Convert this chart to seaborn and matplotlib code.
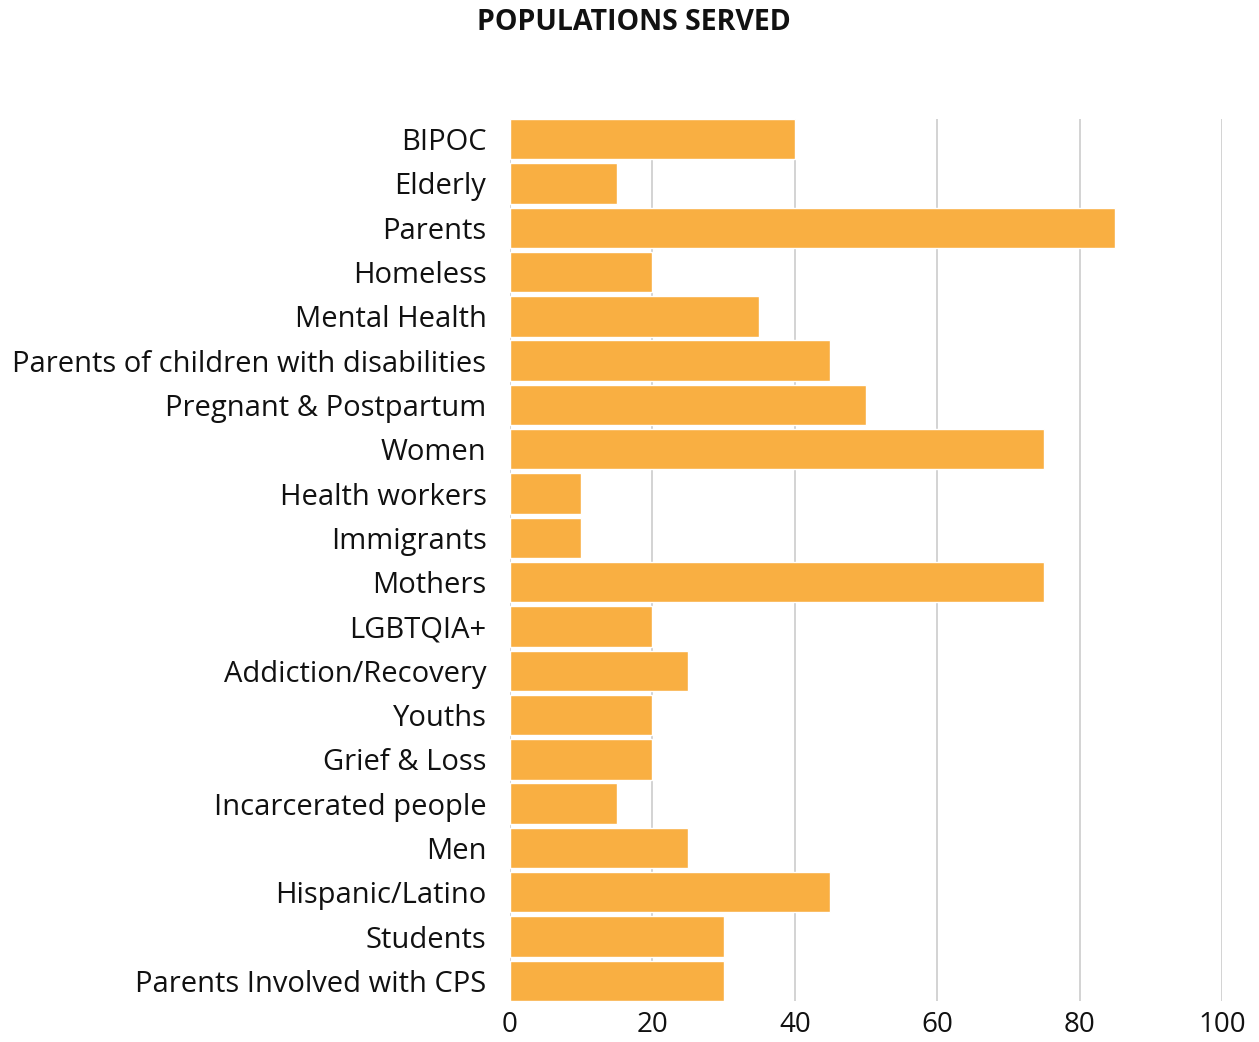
import matplotlib
matplotlib.use("Agg")
import matplotlib.pyplot as plt
import seaborn as sns
import pandas as pd

categories = ["BIPOC", "Elderly", "Parents", "Homeless", "Mental Health",
              "Parents of children with disabilities", "Pregnant & Postpartum",
              "Women", "Health workers", "Immigrants", "Mothers", "LGBTQIA+",
              "Addiction/Recovery", "Youths", "Grief & Loss", "Incarcerated people",
              "Men", "Hispanic/Latino", "Students", "Parents Involved with CPS"]
values = [40, 15, 85, 20, 35, 45, 50, 75, 10, 10, 75, 20, 25, 20, 20, 15, 25, 45, 30, 30]
xticks = [0, 20, 40, 60, 80, 100]

sns.set_theme(style="white")
plt.rcParams['font.family'] = ['Open Sans', 'DejaVu Sans']

df = pd.DataFrame({"cat": categories, "val": values})

fig = plt.figure(figsize=(12.59, 10.42), dpi=100)
ax = fig.add_axes([510/1259, 1 - 1001/1042, (1222-510)/1259, (1001-119)/1042])

sns.barplot(data=df, y="cat", x="val", color="#F9AF42", saturation=1,
            width=0.91, ax=ax, orient="h", zorder=2)

ax.set_xlim(0, 100)
n = len(categories)
ax.set_ylim(n - 1 + 0.455, -0.455)
ax.set_xticks(xticks)
ax.set_xticklabels([str(t) for t in xticks], fontsize=20, color="#111111")
ax.tick_params(axis="y", labelsize=21, labelcolor="#111111", pad=17, length=0)
ax.tick_params(axis="x", pad=7, length=0)
ax.xaxis.grid(True, color="#cccccc", linewidth=1.2, zorder=0)
ax.set_axisbelow(True)
ax.yaxis.grid(False)
for s in ax.spines.values():
    s.set_visible(False)
ax.set_xlabel("")
ax.set_ylabel("")

fig.text(634/1259, 1 - 23/1042, "POPULATIONS SERVED", ha="center", va="center",
         fontsize=20.5, fontweight="bold", color="#111111")

fig.savefig("out.png", dpi=100)
